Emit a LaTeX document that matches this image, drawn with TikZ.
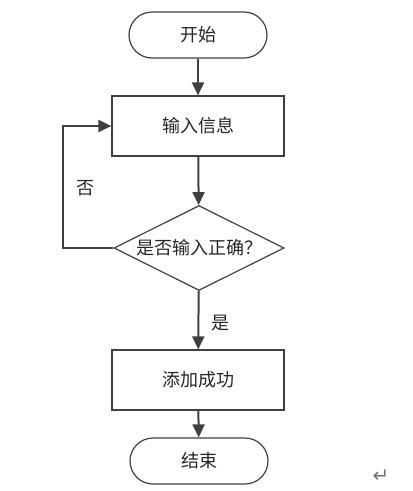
\documentclass[tikz,border=0pt]{standalone}
\usepackage{fontspec}
\newfontfamily\cjk{Noto Sans CJK SC}
\newfontfamily\dejavu{DejaVu Sans}
\usetikzlibrary{shapes.geometric,arrows.meta}
\definecolor{ln}{HTML}{404040}
\begin{document}
\begin{tikzpicture}[x=1pt,y=-1pt,
  every node/.style={font=\cjk\fontsize{18}{20}\selectfont, text=black!85},
  term/.style={draw=ln, line width=1.2pt, rectangle, rounded corners=23pt, minimum width=138pt, minimum height=46pt, inner sep=0pt},
  procbox/.style={draw=ln, line width=1.2pt, rectangle, minimum width=172pt, minimum height=60pt, inner sep=0pt},
  decision/.style={draw=ln, line width=1.2pt, diamond, aspect=2, minimum width=170pt, minimum height=85pt, inner sep=0pt},
  conn/.style={draw=ln, line width=2pt, -{Triangle[width=12pt,length=13pt]}}]
\useasboundingbox (0,0) rectangle (413,491);
\node[term] (start) at (198,35) {开始};
\node[procbox] (input) at (198,126) {输入信息};
\node[decision] (check) at (199,248) {是否输入正确？};
\node[procbox] (add) at (198,380) {添加成功};
\node[term] (stop) at (199,461) {结束};
\coordinate (lb) at (63,248);
\coordinate (lt) at (63,126);
\draw[conn] (start) -- (input);
\draw[conn] (input) -- (check);
\draw[conn] (check) -- node[right, xshift=9pt, yshift=-3pt] (yes) {是} (add);
\draw[conn] (add) -- (stop);
\draw[conn] (check.west) -- (lb) -- (lt) -- (input.west);
\node (no) at (86,188) {否};
\node[font=\dejavu\fontsize{20}{22}\selectfont, text=black!55] (ret) at (381,476) {↵};
\end{tikzpicture}
\end{document}
